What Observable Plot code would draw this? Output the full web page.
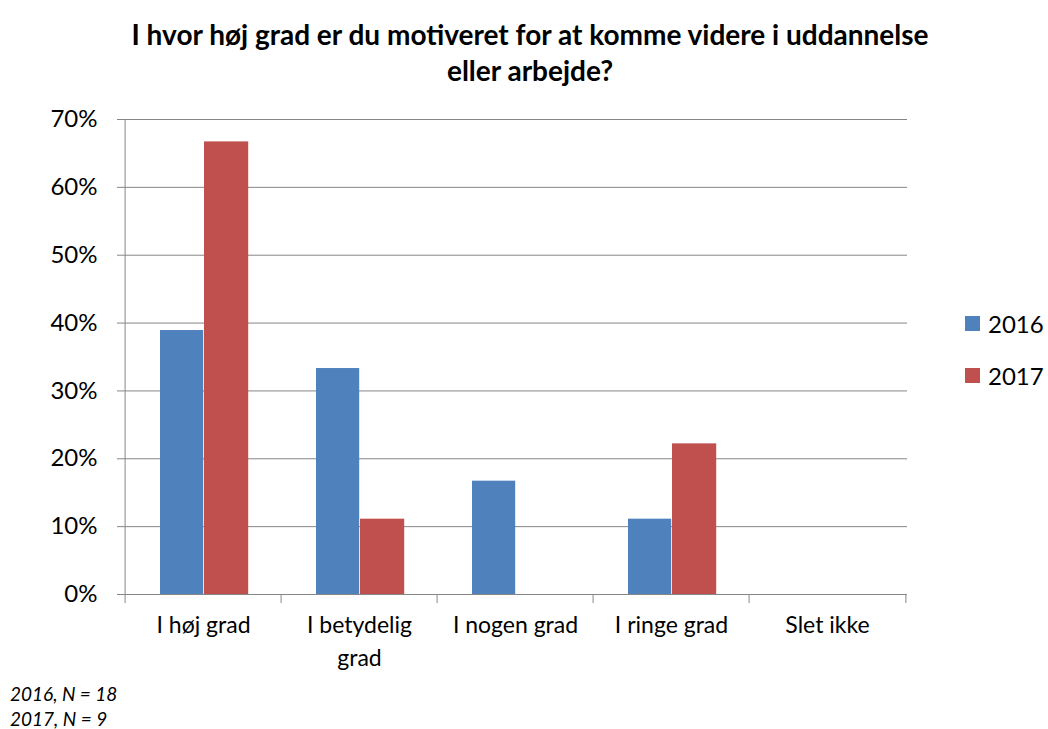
<!DOCTYPE html>
<html><head><meta charset="utf-8">
<script src="https://cdn.jsdelivr.net/npm/d3@7"></script>
<script src="https://cdn.jsdelivr.net/npm/@observablehq/plot@0.6"></script>
<style>
body{margin:0;background:#fff;font-family:Lato,"Open Sans",sans-serif;color:#000;}
#wrap{position:relative;width:1048px;height:729px;overflow:hidden;}
#title{position:absolute;left:0;width:1060px;top:16px;text-align:center;font-weight:bold;font-size:28px;line-height:36px;}
#chart{position:absolute;left:0;top:100px;}
#legend{position:absolute;left:965px;top:297px;font-size:24px;}
#legend .item{height:52px;display:flex;align-items:center;}
#legend .sw{width:15px;height:15px;margin-right:8px;}
#note{position:absolute;left:10px;top:681px;font-style:italic;font-size:19px;line-height:25px;}
</style></head>
<body>
<div id="wrap">
  <div id="title">I hvor høj grad er du motiveret for at komme videre i uddannelse<br>eller arbejde?</div>
  <div id="chart"></div>
  <div id="legend"></div>
  <div id="note"></div>
</div>
<script>
const categories = ["I høj grad", "I betydelig grad", "I nogen grad", "I ringe grad", "Slet ikke"];
const years = ["2016", "2017"];
const values2016 = [0.389, 0.333, 0.167, 0.111, 0];
const values2017 = [0.667, 0.111, 0, 0.222, 0];
const yTicks = [0, 0.1, 0.2, 0.3, 0.4, 0.5, 0.6, 0.7];
const notes = ["2016, N = 18", "2017, N = 9"];
const colors = ["#4F81BD", "#C0504D"];
const labelLines = {"I betydelig grad": "I betydelig\ngrad"};

const data2016 = categories.map((c, i) => ({category: c, year: years[0], value: values2016[i]}));
const data2017 = categories.map((c, i) => ({category: c, year: years[1], value: values2017[i]}));

const W = 1048, H = 580, mL = 123, mR = 141, mT = 19, mB = 86;
const bw = (W - mL - mR) / categories.length;
const gray = "#868686";

const chart = Plot.plot({
  width: W, height: H,
  marginLeft: mL, marginRight: mR, marginTop: mT, marginBottom: mB,
  style: {fontFamily: "Lato, 'Open Sans', sans-serif", fontSize: "22px", color: "#000", background: "#fff"},
  x: {type: "band", domain: categories, padding: 0, axis: null},
  y: {domain: [0, 0.7], axis: null},
  marks: [
    Plot.gridY(yTicks, {stroke: gray, strokeOpacity: 1, strokeWidth: 1}),
    Plot.barY(data2016, {x: "category", y: "value", fill: colors[0], insetLeft: 35, insetRight: bw - 79}),
    Plot.barY(data2017, {x: "category", y: "value", fill: colors[1], insetLeft: 79, insetRight: bw - 124}),
    Plot.ruleX([categories[0]], {x: d => d, y1: 0, y2: 0.7, dx: -bw / 2, stroke: gray}),
    Plot.ruleY([0], {stroke: gray, insetLeft: -6}),
    Plot.axisY({ticks: yTicks, tickFormat: d3.format(".0%"), tickSize: 6, tickPadding: 20, stroke: gray, fill: "#000", fontSize: 24, label: null}),
    Plot.axisX({ticks: categories, tickSize: 9, tickFormat: () => "", dx: -bw / 2, stroke: gray, label: null}),
    Plot.axisX({ticks: [categories[categories.length - 1]], tickSize: 9, tickFormat: () => "", dx: bw / 2, stroke: gray, label: null}),
    Plot.axisX({ticks: categories, tickSize: 0, tickPadding: 16, tickFormat: d => labelLines[d] || d, lineHeight: 1.4, fill: "#000", fontSize: 23, label: null})
  ]
});
document.getElementById("chart").appendChild(chart);

const legend = document.getElementById("legend");
years.forEach((y, i) => {
  const it = document.createElement("div");
  it.className = "item";
  it.innerHTML = `<div class="sw" style="background:${colors[i]}"></div><span>${y}</span>`;
  legend.appendChild(it);
});
document.getElementById("note").innerHTML = notes.map(n => `<div>${n}</div>`).join("");
</script>
</body></html>
